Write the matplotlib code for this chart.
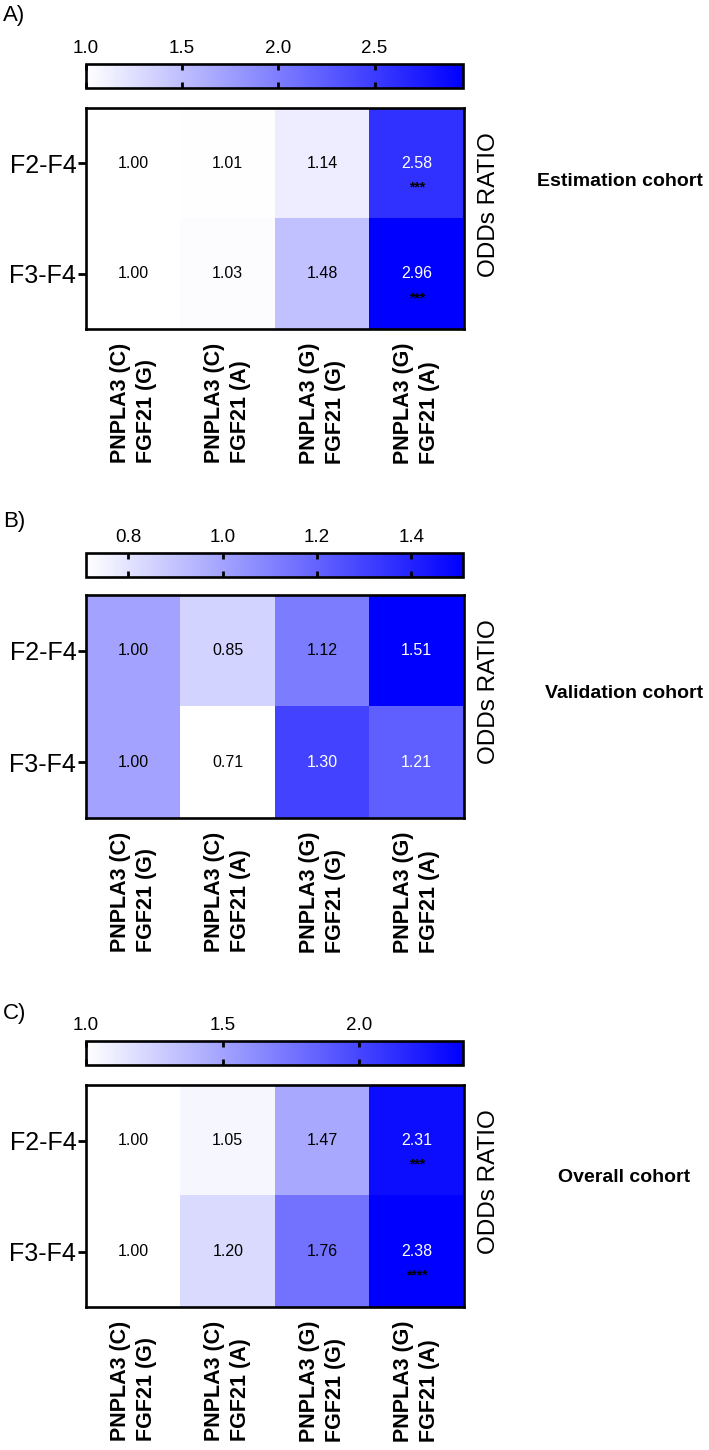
import numpy as np
import matplotlib
matplotlib.use("Agg")
import matplotlib.pyplot as plt
from matplotlib.colors import LinearSegmentedColormap

plt.rcParams['font.family'] = ['Liberation Sans', 'DejaVu Sans']

# ---------------- data ----------------
rows = ["F2-F4", "F3-F4"]
cols = ["PNPLA3 (C)\nFGF21 (G)", "PNPLA3 (C)\nFGF21 (A)",
        "PNPLA3 (G)\nFGF21 (G)", "PNPLA3 (G)\nFGF21 (A)"]

estimation = [[1.00, 1.01, 1.14, 2.58],
              [1.00, 1.03, 1.48, 2.96]]
estimation_stars = [["", "", "", "***"],
                    ["", "", "", "***"]]
estimation_ticks = [1.0, 1.5, 2.0, 2.5]

validation = [[1.00, 0.85, 1.12, 1.51],
              [1.00, 0.71, 1.30, 1.21]]
validation_stars = [["", "", "", ""],
                    ["", "", "", ""]]
validation_ticks = [0.8, 1.0, 1.2, 1.4]

overall = [[1.00, 1.05, 1.47, 2.31],
           [1.00, 1.20, 1.76, 2.38]]
overall_stars = [["", "", "", "***"],
                 ["", "", "", "****"]]
overall_ticks = [1.0, 1.5, 2.0]

panel_letters = ["A)", "B)", "C)"]
cohort_names = ["Estimation cohort", "Validation cohort", "Overall cohort"]

# ---------------- layout ----------------
W, H = 709, 1450
fig = plt.figure(figsize=(W / 100, H / 100), dpi=100)
cmap = LinearSegmentedColormap.from_list("wb", ["#ffffff", "#0000ff"])


def box(x0, y0, x1, y1):
    return [x0 / W, 1 - y1 / H, (x1 - x0) / W, (y1 - y0) / H]


panels = [
    dict(data=estimation, stars=estimation_stars, ticks=estimation_ticks,
         letter_y=15, cbar=(86, 64, 463, 88), heat=(86, 108, 464, 329),
         odds_y=205, cohort=(537, 182)),
    dict(data=validation, stars=validation_stars, ticks=validation_ticks,
         letter_y=522, cbar=(86, 553, 463, 577), heat=(86, 595, 464, 818),
         odds_y=692, cohort=(545, 693)),
    dict(data=overall, stars=overall_stars, ticks=overall_ticks,
         letter_y=1013, cbar=(86, 1041, 463, 1065), heat=(86, 1085, 464, 1307),
         odds_y=1182, cohort=(558, 1178)),
]

LW = 1.9

for p, letter, cohort in zip(panels, panel_letters, cohort_names):
    data = np.array(p["data"])
    vmin, vmax = data.min(), data.max()

    ax = fig.add_axes(box(*p["heat"]))
    im = ax.imshow(data, cmap=cmap, vmin=vmin, vmax=vmax, aspect="auto",
                   interpolation="nearest")
    ax.set_xticks(range(len(cols)))
    ax.set_xticklabels(cols, rotation=90, fontsize=15.5, fontweight="bold",
                       va="top", ha="center", multialignment="left",
                       linespacing=1.3)
    ax.set_yticks(range(len(rows)))
    ax.set_yticklabels(rows, fontsize=18)
    ax.tick_params(axis="x", length=0, pad=10)
    ax.tick_params(axis="y", length=6, width=2, pad=1)
    for s in ax.spines.values():
        s.set_linewidth(LW)

    for i in range(data.shape[0]):
        for j in range(data.shape[1]):
            v = data[i, j]
            frac = (v - vmin) / (vmax - vmin)
            c = "white" if frac > 0.6 else "black"
            ax.text(j, i, f"{v:.2f}", ha="center", va="center",
                    fontsize=11.5, color=c)
            st = p["stars"][i][j]
            if st:
                ax.text(j, i + 0.22, st, ha="center", va="center",
                        fontsize=10, fontweight="bold", color="black")

    cax = fig.add_axes(box(*p["cbar"]))
    cb = fig.colorbar(im, cax=cax, orientation="horizontal")
    cb.set_ticks(p["ticks"])
    cb.set_ticklabels([f"{t:.1f}" for t in p["ticks"]])
    cb.outline.set_linewidth(LW)
    cax.xaxis.set_ticks_position("both")
    cax.tick_params(axis="x", direction="in", length=4, width=2,
                    top=True, bottom=True, labeltop=True, labelbottom=False,
                    labelsize=13.5, pad=5)

    fig.text(3 / W, 1 - p["letter_y"] / H, letter, fontsize=16,
             ha="left", va="center")
    fig.text(489 / W, 1 - p["odds_y"] / H, "ODDs RATIO", fontsize=17.5,
             rotation=90, ha="center", va="center")
    fig.text(p["cohort"][0] / W, 1 - p["cohort"][1] / H, cohort,
             fontsize=14, fontweight="bold", ha="left", va="center")

fig.savefig("out.png", dpi=100)
